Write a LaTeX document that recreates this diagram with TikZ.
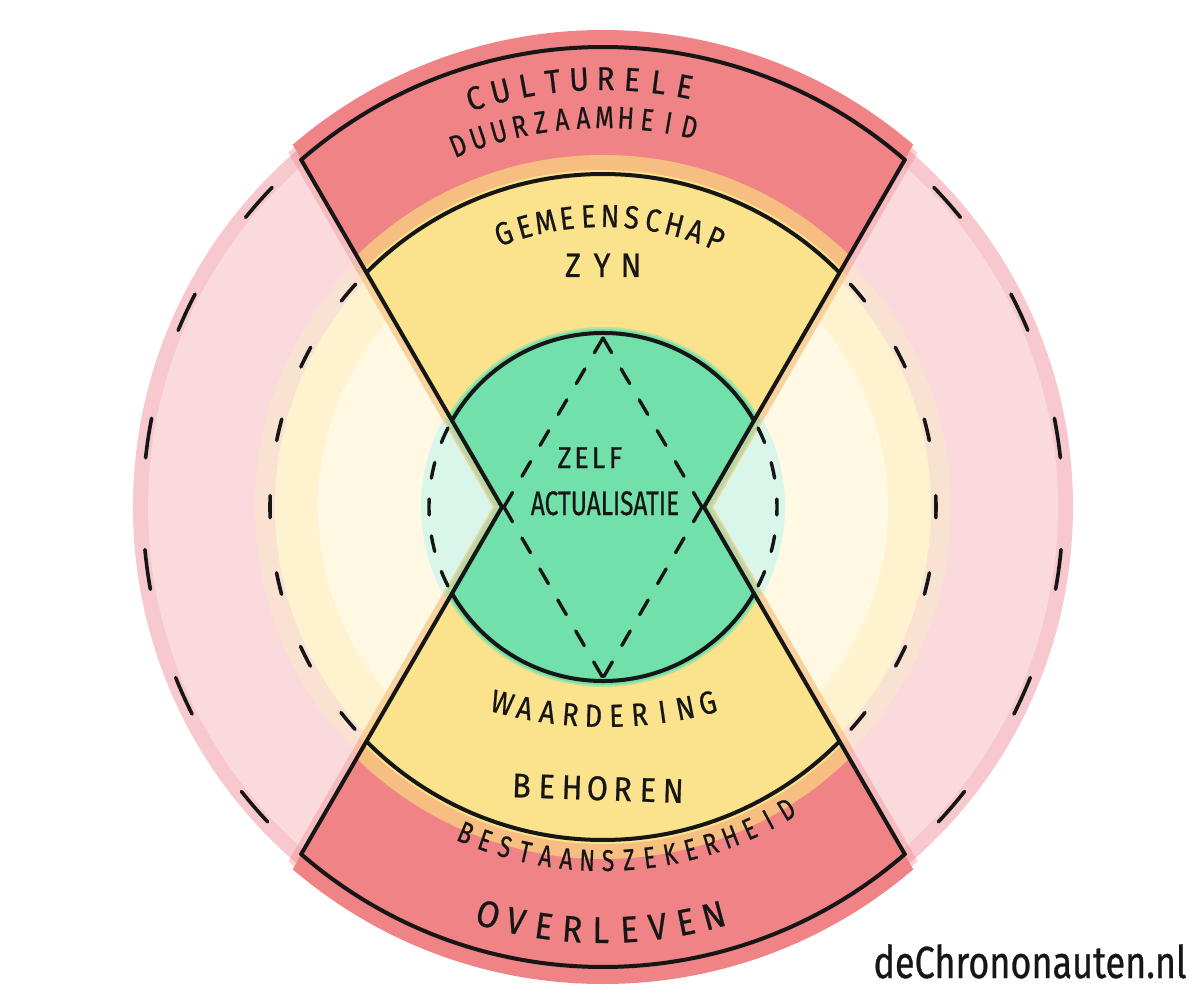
\documentclass[tikz,border=0pt]{standalone}
\usepackage{fontspec}
\setmainfont{Fira Sans}
\newfontfamily\handf{Fira Sans}[FakeBold=0.7]
\usepackage{graphicx}
\usetikzlibrary{calc}

\definecolor{inkc}{HTML}{161616}
\definecolor{redW}{HTML}{F08385}
\definecolor{pinkE}{HTML}{F7C8CD}
\definecolor{pinkW}{HTML}{FADADD}
\definecolor{peachW}{HTML}{FAE2D2}
\definecolor{creamW}{HTML}{FFF3CF}
\definecolor{creamL}{HTML}{FFF8E2}
\definecolor{mintW}{HTML}{D8F7EA}
\definecolor{orangeW}{HTML}{F7BE82}
\definecolor{yelW}{HTML}{FBE28C}
\definecolor{greenW}{HTML}{72E0AB}

\tikzset{
  ltr/.style={font=\handf\fontsize{16pt}{18pt}\selectfont, inner sep=0pt, text=inkc},
  ink/.style={line width=2pt, draw=inkc, line cap=round},
  dashO/.style={ink, line width=1.8pt, dash pattern=on 20pt off 46pt},
  dashM/.style={ink, line width=1.8pt, dash pattern=on 11pt off 27.8pt},
  dashI/.style={ink, line width=1.7pt, dash pattern=on 8pt off 10.5pt},
  dashD/.style={ink, line width=1.7pt, dash pattern=on 8.5pt off 9.4pt},
}

% #1 name prefix, #2 style, #3 centre, #4 radius, #5 centre angle, #6 step, #7 count, #8 letters, #9 xscale
\newcommand{\uparcText}[9]{%
  \foreach \myl [count=\i from 0] in {#8}{%
    \pgfmathsetmacro{\myang}{#5+((#7)-1)/2*(#6)-\i*(#6)}%
    \node[ltr,#2,rotate=\myang-90,anchor=base] (#1-\i) at ($(#3)+(\myang:#4)$) {\scalebox{#9}[1]{\myl}};
  }}
\newcommand{\downarcText}[9]{%
  \foreach \myl [count=\i from 0] in {#8}{%
    \pgfmathsetmacro{\myang}{#5-((#7)-1)/2*(#6)+\i*(#6)}%
    \node[ltr,#2,rotate=\myang+90,anchor=base] (#1-\i) at ($(#3)+(\myang:#4)$) {\scalebox{#9}[1]{\myl}};
  }}
% #1 prefix, #2 style, #3 baseline centre, #4 rotation, #5 pitch, #6 count, #7 letters
\newcommand{\rowText}[7]{%
  \foreach \myl [count=\i from 0] in {#7}{%
    \pgfmathsetmacro{\myoff}{(\i-((#6)-1)/2)*(#5)}%
    \node[ltr,#2,rotate=#4,anchor=base] (#1-\i) at ($(#3)+(#4:\myoff)$) {\scalebox{0.9}[1]{\myl}};
  }}

\begin{document}
\begin{tikzpicture}[x=0.5pt,y=0.5pt]
\useasboundingbox (-603,-500) rectangle (597,507);
\fill[white] (-603,-500) rectangle (597,507);

% ---- side (pale) washes
\fill[pinkE] (0,0) circle (470);
\fill[pinkW] (0,0) circle (455);
\fill[peachW] (0,0) circle (348);
\fill[creamW] (0,0) circle (328);
\fill[creamL] (0,0) circle (285);
\fill[mintW] (0,0) circle (182);

% ---- hourglass washes (red / yellow): soft spill, then full wash
\begin{scope}
  \clip (-110,0) -- ++(120:700) -- ($(110,0)+(60:700)$) -- (110,0) -- ++(-60:700) -- ($(-110,0)+(240:700)$) -- cycle;
  \fill[redW, opacity=0.35] (0,0) circle (474);
  \fill[orangeW, opacity=0.35] (0,0) circle (350);
  \fill[yelW, opacity=0.4] (0,0) circle (336);
\end{scope}
\begin{scope}
  \clip (-101,0) -- ++(120:700) -- ($(101,0)+(60:700)$) -- (101,0) -- ++(-60:700) -- ($(-101,0)+(240:700)$) -- cycle;
  \fill[redW] (0,0) circle (477);
  \fill[orangeW] (0,0) circle (352);
  \fill[yelW] (0,0) circle (337);
\end{scope}
\begin{scope}
  \clip (-108,0) -- ++(120:300) -- ($(108,0)+(60:300)$) -- (108,0) -- ++(-60:300) -- ($(-108,0)+(240:300)$) -- cycle;
  \fill[greenW, opacity=0.45] (0,0) circle (180);
\end{scope}
\begin{scope}
  \clip (-101,0) -- ++(120:300) -- ($(101,0)+(60:300)$) -- (101,0) -- ++(-60:300) -- ($(-101,0)+(240:300)$) -- cycle;
  \fill[greenW] (0,0) circle (178);
\end{scope}

% ---- key points
\coordinate (L) at (-101,0);
\coordinate (R) at (101,0);
\coordinate (TL) at (131:460);
\coordinate (TR) at (49:460);
\coordinate (BL) at (229:460);
\coordinate (BR) at (-49:460);
\coordinate (DT) at (0,169);
\coordinate (DB) at (0,-171);
\coordinate (DL) at (-99,0);
\coordinate (DR) at (99,0);

% ---- solid structure
\draw[ink] (L) -- (TL);
\draw[ink] (L) -- (BL);
\draw[ink] (R) -- (TR);
\draw[ink] (R) -- (BR);
\draw[ink] (TL) arc[start angle=131, end angle=49, radius=460];
\draw[ink] (BL) arc[start angle=229, end angle=311, radius=460];
\draw[ink] (135.2:333) arc[start angle=135.2, end angle=44.8, radius=333];
\draw[ink] (224.8:333) arc[start angle=224.8, end angle=315.2, radius=333];
\draw[ink] (150.2:174) arc[start angle=150.2, end angle=29.8, radius=174];
\draw[ink] (209.8:174) arc[start angle=209.8, end angle=330.2, radius=174];

% ---- dashed side arcs
\draw[dashO] (136:460) arc[start angle=136, end angle=224, radius=460];
\draw[dashO] (44:460) arc[start angle=44, end angle=-44, radius=460];
\draw[dashM] (138:333) arc[start angle=138, end angle=222, radius=333];
\draw[dashM] (42:333) arc[start angle=42, end angle=-42, radius=333];
\draw[dashI] (153:174) arc[start angle=153, end angle=207, radius=174];
\draw[dashI] (27:174) arc[start angle=27, end angle=-27, radius=174];

% ---- dashed diamond
\draw[dashD] (DT) -- (DL);
\draw[dashD] (DL) -- (DB);
\draw[dashD] (DT) -- (DR);
\draw[dashD] (DR) -- (DB);

% ---- labels
\uparcText{cul}{font=\handf\fontsize{16.5pt}{18pt}\selectfont}{0,0}{417}{93.2}{3.55}{9}{C,U,L,T,U,R,E,L,E}{0.9}
\uparcText{duu}{font=\handf\fontsize{15.5pt}{18pt}\selectfont}{0,0}{379}{94.5}{3.15}{12}{D,U,U,R,Z,A,A,M,H,E,I,D}{0.78}
\uparcText{gem}{font=\handf\fontsize{16pt}{18pt}\selectfont}{0,0}{280}{88.6}{4.27}{11}{G,E,M,E,E,N,S,C,H,A,P}{0.85}
\rowText{zyn}{font=\handf\fontsize{17pt}{18pt}\selectfont}{-1,230}{0}{29}{3}{Z,Y,N}
\rowText{zelf}{font=\handf\fontsize{15pt}{18pt}\selectfont}{-13,39}{0}{17}{4}{Z,E,L,F}
\node[ltr, anchor=base, font=\handf\fontsize{17pt}{18pt}\selectfont] (act) at (2,-8) {\scalebox{0.72}[1]{ACTUALISATIE}};
\downarcText{waa}{font=\handf\fontsize{16pt}{18pt}\selectfont}{2,200}{420}{270}{3.23}{10}{W,A,A,R,D,E,R,I,N,G}{0.85}
\rowText{beh}{font=\handf\fontsize{17pt}{18pt}\selectfont}{-6,-293}{-2}{25.3}{7}{B,E,H,O,R,E,N}
\downarcText{bes}{font=\handf\fontsize{15pt}{18pt}\selectfont}{0,0}{364}{274.2}{3.38}{17}{B,E,S,T,A,A,N,S,Z,E,K,E,R,H,E,I,D}{0.76}
\downarcText{ove}{font=\handf\fontsize{18.5pt}{20pt}\selectfont}{0,0}{436}{269.7}{3.86}{9}{O,V,E,R,L,E,V,E,N}{0.9}

\node[ltr, anchor=base, font=\handf\fontsize{18pt}{20pt}\selectfont] (url) at (427,-471) {\scalebox{1}[1.25]{deChrononauten.nl}};
\end{tikzpicture}
\end{document}
